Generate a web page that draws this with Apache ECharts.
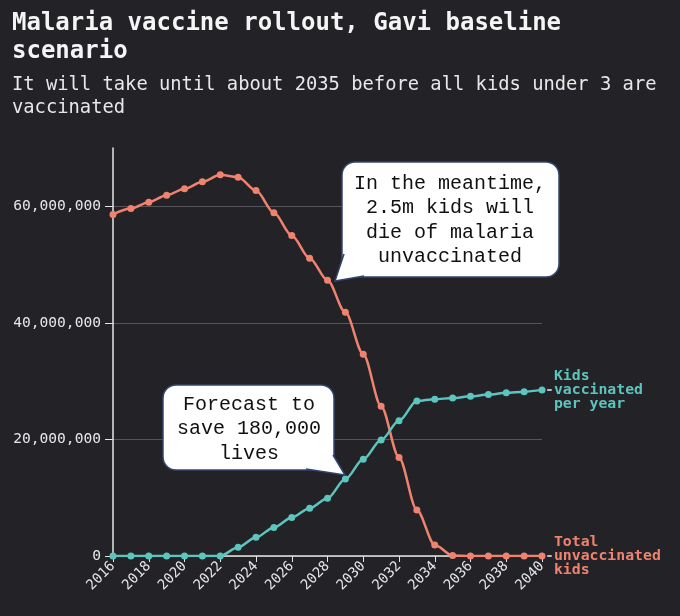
<!DOCTYPE html>
<html>
<head>
<meta charset="utf-8">
<script src="https://cdn.jsdelivr.net/npm/echarts@6/dist/echarts.min.js"></script>
<style>
  html, body { margin: 0; padding: 0; background: #222227; }
  #chart { width: 680px; height: 616px; }
</style>
</head>
<body>
<div id="chart"></div>
<script>
// datos
const years = ['2016', '2017', '2018', '2019', '2020', '2021', '2022', '2023', '2024', '2025', '2026', '2027', '2028',
  '2029', '2030', '2031', '2032', '2033', '2034', '2035', '2036', '2037', '2038', '2039', '2040'];

const unvaccinated = [58.6, 59.6, 60.7, 61.9, 63.0, 64.2, 65.4, 65.0, 62.7, 58.9, 55.0, 51.1, 47.3,
  41.8, 34.6, 25.7, 16.9, 7.9, 1.9, 0.1, 0, 0, 0, 0, 0].map(v => v * 1e6);

const vaccinated = [0, 0, 0, 0, 0, 0, 0, 1.5, 3.2, 4.9, 6.6, 8.2, 9.9,
  13.2, 16.6, 19.9, 23.2, 26.6, 26.9, 27.1, 27.4, 27.7, 28.0, 28.2, 28.5].map(v => v * 1e6);

const yTicks = [0, 20000000, 40000000, 60000000];

const RED = '#f0836f';
const TEAL = '#5cc5bd';
const MONO = '"DejaVu Sans Mono", monospace';
const COURIER = '"Liberation Mono", monospace';

const chart = echarts.init(document.getElementById('chart'));

// globo de texto: caja + cola (encima de la rejilla)
function bubble(box, tail, text, cx, cy) {
  return {
    type: 'group',
    z: 100,
    children: [
      { type: 'rect', z: 100, shape: { x: box[0], y: box[1], width: box[2], height: box[3], r: 13 },
        style: { fill: '#ffffff', stroke: '#34456f', lineWidth: 1.5 } },
      { type: 'polygon', z: 101, shape: { points: tail },
        style: { fill: '#ffffff' } },
      { type: 'polyline', z: 102, shape: { points: tail },
        style: { fill: null, stroke: '#34456f', lineWidth: 1.5 } },
      { type: 'text', z: 103, x: cx, y: cy,
        style: { text: text, fill: '#111', font: '20px ' + COURIER, lineHeight: 24.5,
          align: 'center', verticalAlign: 'middle' } }
    ]
  };
}

const option = {
  backgroundColor: '#222227',
  animation: false,
  title: [
    {
      text: 'Malaria vaccine rollout, Gavi baseline\nscenario',
      left: 12, top: 10, padding: 0,
      textStyle: { color: '#f5f5f5', fontFamily: MONO, fontWeight: 'bold', fontSize: 24, lineHeight: 28 }
    },
    {
      text: 'It will take until about 2035 before all kids under 3 are\nvaccinated',
      left: 12, top: 74, padding: 0,
      textStyle: { color: '#e8e8e8', fontFamily: MONO, fontWeight: 'normal', fontSize: 18.8, lineHeight: 23 }
    }
  ],
  grid: { left: 113, right: 138, top: 148, bottom: 60, containLabel: false },
  xAxis: {
    type: 'category',
    data: years,
    boundaryGap: false,
    axisLine: { lineStyle: { color: '#e6e6e6', width: 1.5 } },
    axisTick: { interval: 1, length: 6, lineStyle: { color: '#e6e6e6' } },
    axisLabel: { interval: 1, rotate: 45, margin: 8, color: '#e6e6e6', fontFamily: MONO, fontSize: 14 }
  },
  yAxis: {
    type: 'value',
    min: 0, max: 70000000, interval: 20000000,
    axisLine: { show: true, lineStyle: { color: '#e6e6e6', width: 1.5 } },
    axisTick: { show: true, length: 8, customValues: yTicks, lineStyle: { color: '#e6e6e6' } },
    axisLabel: {
      customValues: yTicks, margin: 12,
      color: '#e6e6e6', fontFamily: MONO, fontSize: 14.6,
      formatter: v => v.toLocaleString('en-US')
    },
    splitLine: { show: true, lineStyle: { color: '#55555b', width: 1 } }
  },
  series: [
    {
      name: 'Total unvaccinated kids',
      type: 'line',
      data: unvaccinated,
      smooth: 0.3,
      smoothMonotone: 'x',
      symbol: 'circle',
      symbolSize: 7,
      lineStyle: { color: RED, width: 2.5 },
      itemStyle: { color: RED },
      endLabel: {
        show: true, distance: 3,
        formatter: ' Total\n{d|-}unvaccinated\n kids',
        color: RED, fontFamily: MONO, fontWeight: 'bold', fontSize: 14.8, lineHeight: 14,
        rich: { d: { color: '#bbbbbb', fontFamily: MONO, fontSize: 14.8, lineHeight: 14 } }
      }
    },
    {
      name: 'Kids vaccinated per year',
      type: 'line',
      data: vaccinated,
      smooth: 0.3,
      smoothMonotone: 'x',
      symbol: 'circle',
      symbolSize: 7,
      lineStyle: { color: TEAL, width: 2.5 },
      itemStyle: { color: TEAL },
      endLabel: {
        show: true, distance: 3,
        formatter: ' Kids\n{d|-}vaccinated\n per year',
        color: TEAL, fontFamily: MONO, fontWeight: 'bold', fontSize: 14.8, lineHeight: 14,
        rich: { d: { color: '#bbbbbb', fontFamily: MONO, fontSize: 14.8, lineHeight: 14 } }
      }
    }
  ],
  graphic: [
    bubble([342, 162, 217, 115], [[344, 254], [335, 281], [364, 276]],
      'In the meantime,\n2.5m kids will\ndie of malaria\nunvaccinated', 450, 220),
    bubble([163, 385, 171, 85], [[333, 455], [345, 475], [306, 469]],
      'Forecast to\nsave 180,000\nlives', 249, 429)
  ]
};

chart.setOption(option);
</script>
</body>
</html>
